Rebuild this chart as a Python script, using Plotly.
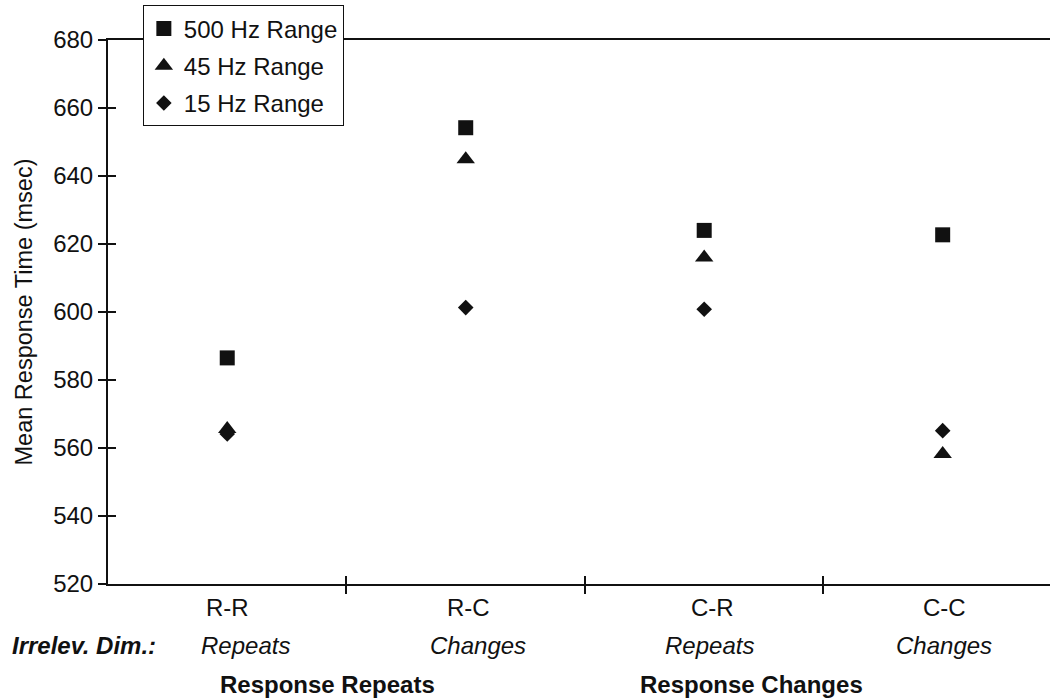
import plotly.graph_objects as go

categories = ["R-R", "R-C", "C-R", "C-C"]
irrelevant_dim = ["Repeats", "Changes", "Repeats", "Changes"]
groups = ["Response Repeats", "Response Changes"]
series_names = ["500 Hz Range", "45 Hz Range", "15 Hz Range"]
rt_500 = [586.5, 654.2, 624.0, 622.7]
rt_45 = [565.6, 644.9, 616.0, 558.2]
rt_15 = [564.1, 601.3, 600.8, 565.1]
y_ticks = [520, 540, 560, 580, 600, 620, 640, 660, 680]

FONT = "Liberation Sans, Arial, sans-serif"
INK = "#111111"
xpos = list(range(len(categories)))

fig = go.Figure()
symbols = ["square", "triangle-up", "diamond"]
sizes = [15, 16, 12]
for name, vals, sym, sz in zip(series_names, [rt_500, rt_45, rt_15], symbols, sizes):
    fig.add_trace(go.Scatter(
        x=xpos, y=vals, mode="markers", name=name, legendgroup=name,
        marker=dict(symbol=sym, size=sz, color=INK, line=dict(width=0)),
    ))
# empty trace so the overlay axes (inner halves of crossing ticks) are drawn
fig.add_trace(go.Scatter(x=[], y=[], xaxis="x2", yaxis="y2", showlegend=False, hoverinfo="skip"))

xr = [-0.5, 3.45]
yr = [520, 680]
fig.update_layout(
    width=1050, height=698,
    margin=dict(l=108, r=0, t=40, b=114, autoexpand=False),
    paper_bgcolor="white", plot_bgcolor="white",
    font=dict(family=FONT, size=24, color=INK),
    showlegend=True,
    legend=dict(
        x=0.037, y=(584 - 6) / 543.5, xanchor="left", yanchor="top",
        bgcolor="white", bordercolor=INK, borderwidth=1,
        font=dict(size=24, family=FONT, color=INK),
        traceorder="grouped", tracegroupgap=3,
    ),
    xaxis=dict(
        range=xr, showgrid=False, zeroline=False, automargin=False,
        showline=True, linecolor=INK, linewidth=2, mirror=True,
        tickmode="array", tickvals=[0.5, 1.5, 2.5], showticklabels=False,
        ticks="outside", ticklen=8, tickwidth=1.5, tickcolor=INK,
    ),
    xaxis2=dict(
        range=xr, overlaying="x", anchor="y", showgrid=False, zeroline=False,
        showline=False, tickmode="array", tickvals=[0.5, 1.5, 2.5], showticklabels=False,
        ticks="inside", ticklen=8, tickwidth=1.5, tickcolor=INK,
    ),
    yaxis=dict(
        range=yr, showgrid=False, zeroline=False, automargin=False,
        showline=True, linecolor=INK, linewidth=2,
        tickmode="array", tickvals=y_ticks,
        ticks="outside", ticklen=8, tickwidth=1.5, tickcolor=INK,
        tickfont=dict(size=24, family=FONT, color=INK),
        title=dict(text="Mean Response Time (msec)", font=dict(size=23.5, family=FONT, color=INK), standoff=14),
    ),
    yaxis2=dict(
        range=yr, overlaying="y", anchor="x", showgrid=False, zeroline=False,
        showline=False, tickmode="array", tickvals=y_ticks, showticklabels=False,
        ticks="inside", ticklen=8, tickwidth=1.5, tickcolor=INK,
    ),
)

def py(pix):
    return (584 - pix) / 543.5

cat_shift = [0, 3, 8, 2]
dim_shift = [18, 12, 5, 1]
for i, (c, d) in enumerate(zip(categories, irrelevant_dim)):
    fig.add_annotation(x=xpos[i], y=py(607), xref="x", yref="paper", text=c,
                       showarrow=False, xanchor="center", yanchor="middle", xshift=cat_shift[i],
                       font=dict(size=24, family=FONT, color=INK))
    fig.add_annotation(x=xpos[i], y=py(645), xref="x", yref="paper", text=f"<i>{d}</i>",
                       showarrow=False, xanchor="center", yanchor="middle", xshift=dim_shift[i],
                       font=dict(size=24, family=FONT, color=INK))

fig.add_annotation(x=(10 - 108) / 942, y=py(645), xref="paper", yref="paper",
                   text="<b><i>Irrelev. Dim.:</i></b>", showarrow=False,
                   xanchor="left", yanchor="middle", font=dict(size=24, family=FONT, color=INK))
for g, cx in zip(groups, [0.5 - 0.08, 2.5 - 0.30]):
    fig.add_annotation(x=cx, y=py(684), xref="x", yref="paper", text=f"<b>{g}</b>",
                       showarrow=False, xanchor="center", yanchor="middle",
                       font=dict(size=24, family=FONT, color=INK))

fig.write_html(
    "out.html",
    config={"displayModeBar": False},
    post_script="document.body.style.margin='0';document.body.style.overflow='hidden';",
)
